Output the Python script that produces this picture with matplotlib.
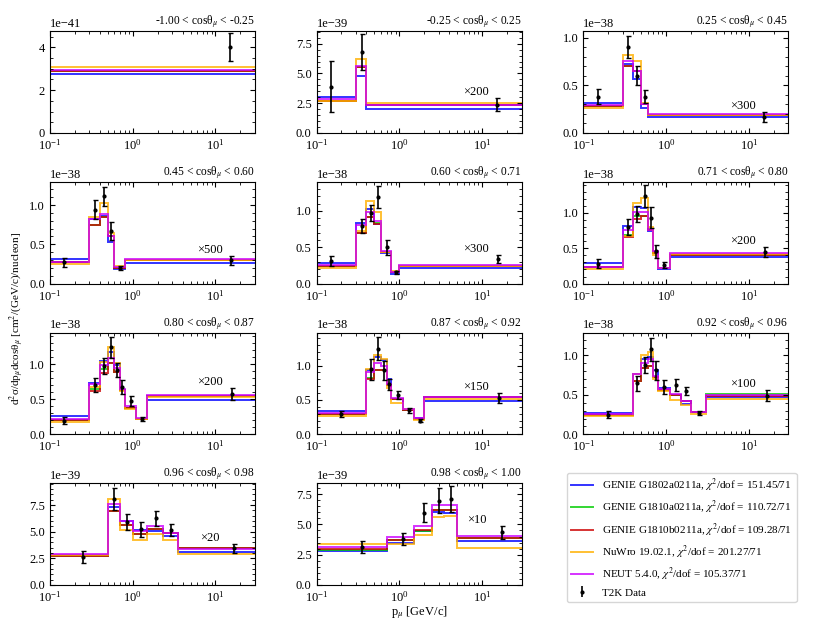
import numpy as np
import matplotlib.pyplot as plt
from matplotlib.lines import Line2D
from matplotlib.ticker import AutoMinorLocator, MaxNLocator

plt.rcParams['font.family'] = 'serif'
plt.rcParams['font.serif'] = ['Liberation Serif', 'DejaVu Serif']
plt.rcParams['mathtext.fontset'] = 'stix'
plt.rcParams['font.size'] = 8
plt.rcParams['xtick.labelsize'] = 9
plt.rcParams['ytick.labelsize'] = 9

# angular slices
cos_lo = [-1.00, -0.25, 0.25, 0.45, 0.60, 0.71, 0.80, 0.87, 0.92, 0.96, 0.98]
cos_hi = [-0.25, 0.25, 0.45, 0.60, 0.71, 0.80, 0.87, 0.92, 0.96, 0.98, 1.00]
units = [1e-41, 1e-39, 1e-38, 1e-38, 1e-38, 1e-38, 1e-38, 1e-38, 1e-38, 1e-39, 1e-39]
y_max = [4.75, 8.55, 1.07, 1.295, 1.40, 1.44, 1.45, 1.48, 1.29, 9.56, 8.4]
last_bin_scale = [None, 200, 300, 500, 300, 200, 200, 150, 100, 20, 10]

# momentum bin edges [GeV/c]
p_edges = [
    [0, 30],
    [0, 0.3, 0.4, 30],
    [0, 0.3, 0.4, 0.5, 0.6, 30],
    [0, 0.3, 0.4, 0.5, 0.6, 0.8, 30],
    [0, 0.3, 0.4, 0.5, 0.6, 0.8, 1.0, 30],
    [0, 0.3, 0.4, 0.5, 0.6, 0.7, 0.8, 1.1, 30],
    [0, 0.3, 0.4, 0.5, 0.6, 0.7, 0.8, 1.1, 1.5, 30],
    [0, 0.4, 0.5, 0.6, 0.7, 0.8, 1.1, 1.5, 2.0, 30],
    [0, 0.4, 0.5, 0.6, 0.7, 0.8, 1.1, 1.5, 2.0, 3.0, 30],
    [0, 0.5, 0.7, 1.0, 1.5, 2.3, 3.5, 30],
    [0, 0.7, 1.5, 2.5, 3.5, 5.0, 30],
]

t2k = [
    [4.0],
    [3.9, 6.8, 2.36],
    [0.38, 0.90, 0.60, 0.38, 0.167],
    [0.27, 0.94, 1.11, 0.67, 0.20, 0.295],
    [0.315, 0.79, 0.97, 1.19, 0.50, 0.155, 0.34],
    [0.28, 0.80, 0.985, 1.24, 0.93, 0.455, 0.265, 0.445],
    [0.19, 0.70, 0.97, 1.24, 0.915, 0.67, 0.475, 0.215, 0.575],
    [0.295, 0.945, 1.245, 0.93, 0.725, 0.57, 0.35, 0.20, 0.53],
    [0.25, 0.645, 0.877, 1.076, 0.813, 0.60, 0.63, 0.55, 0.27, 0.487],
    [2.65, 8.1, 5.9, 5.25, 6.25, 5.15, 3.45],
    [3.17, 3.77, 5.98, 6.97, 7.1, 4.35],
]
t2k_err = [
    [0.66],
    [2.15, 1.5, 0.55],
    [0.08, 0.115, 0.10, 0.07, 0.05],
    [0.06, 0.12, 0.12, 0.11, 0.03, 0.06],
    [0.07, 0.10, 0.11, 0.15, 0.10, 0.025, 0.05],
    [0.065, 0.11, 0.11, 0.16, 0.15, 0.09, 0.04, 0.07],
    [0.05, 0.10, 0.11, 0.15, 0.10, 0.10, 0.07, 0.03, 0.08],
    [0.045, 0.15, 0.17, 0.14, 0.08, 0.06, 0.035, 0.02, 0.075],
    [0.045, 0.10, 0.10, 0.15, 0.12, 0.085, 0.075, 0.05, 0.03, 0.07],
    [0.55, 1.05, 0.75, 0.7, 0.7, 0.55, 0.4],
    [0.5, 0.5, 0.75, 1.05, 1.05, 0.55],
]

genie_1802a = [
    [2.75],
    [3.0, 4.8, 2.03],
    [0.31, 0.73, 0.57, 0.26, 0.167],
    [0.31, 0.82, 0.865, 0.535, 0.185, 0.265],
    [0.29, 0.83, 1.02, 0.82, 0.42, 0.13, 0.21],
    [0.29, 0.82, 1.09, 1.07, 0.75, 0.445, 0.21, 0.37],
    [0.26, 0.725, 1.05, 1.175, 0.985, 0.63, 0.38, 0.215, 0.49],
    [0.34, 0.93, 1.125, 1.08, 0.81, 0.52, 0.35, 0.23, 0.48],
    [0.27, 0.76, 0.95, 0.98, 0.81, 0.59, 0.50, 0.39, 0.285, 0.475],
    [2.8, 7.3, 6.0, 5.15, 5.05, 4.6, 3.1],
    [2.8, 3.5, 4.45, 6.05, 5.9, 3.65],
]
genie_1810a = [
    [2.88],
    [2.67, 5.55, 2.36],
    [0.28, 0.70, 0.65, 0.30, 0.185],
    [0.27, 0.75, 0.85, 0.60, 0.20, 0.30],
    [0.24, 0.70, 0.92, 0.83, 0.44, 0.16, 0.245],
    [0.23, 0.69, 0.95, 0.96, 0.76, 0.43, 0.22, 0.41],
    [0.21, 0.64, 0.93, 1.01, 0.89, 0.63, 0.38, 0.22, 0.55],
    [0.29, 0.82, 0.93, 0.93, 0.715, 0.52, 0.36, 0.22, 0.54],
    [0.24, 0.67, 0.84, 0.86, 0.73, 0.56, 0.50, 0.42, 0.28, 0.51],
    [2.75, 6.95, 5.6, 4.75, 5.25, 4.9, 3.5],
    [2.9, 3.7, 4.45, 6.15, 6.15, 3.9],
]
genie_1810b = [
    [2.9],
    [2.67, 5.55, 2.36],
    [0.28, 0.70, 0.65, 0.30, 0.185],
    [0.27, 0.74, 0.85, 0.60, 0.20, 0.30],
    [0.24, 0.70, 0.92, 0.82, 0.44, 0.16, 0.245],
    [0.23, 0.66, 0.92, 0.96, 0.76, 0.43, 0.22, 0.41],
    [0.21, 0.62, 0.88, 1.01, 0.89, 0.63, 0.38, 0.22, 0.55],
    [0.29, 0.80, 0.93, 0.93, 0.715, 0.52, 0.36, 0.22, 0.54],
    [0.24, 0.67, 0.84, 0.86, 0.73, 0.56, 0.50, 0.42, 0.28, 0.48],
    [2.72, 6.95, 5.6, 4.75, 5.25, 4.9, 3.5],
    [3.0, 3.7, 4.55, 6.15, 6.15, 3.9],
]
nuwro = [
    [3.1],
    [2.65, 6.25, 2.5],
    [0.26, 0.82, 0.76, 0.31, 0.19],
    [0.25, 0.85, 1.03, 0.65, 0.22, 0.295],
    [0.22, 0.72, 1.13, 0.985, 0.44, 0.175, 0.245],
    [0.21, 0.68, 1.14, 1.21, 0.80, 0.41, 0.22, 0.42],
    [0.18, 0.68, 1.03, 1.25, 1.02, 0.61, 0.355, 0.22, 0.525],
    [0.27, 0.945, 1.15, 1.10, 0.67, 0.45, 0.365, 0.21, 0.51],
    [0.235, 0.76, 1.01, 1.04, 0.70, 0.55, 0.43, 0.37, 0.255, 0.445],
    [2.8, 8.1, 5.15, 4.2, 4.75, 4.2, 2.9],
    [3.36, 3.35, 4.1, 5.6, 5.7, 3.05],
]
neut = [
    [2.93],
    [2.86, 5.6, 2.38],
    [0.29, 0.76, 0.65, 0.305, 0.195],
    [0.28, 0.82, 0.89, 0.61, 0.21, 0.31],
    [0.255, 0.81, 0.985, 0.86, 0.45, 0.16, 0.255],
    [0.24, 0.76, 1.02, 1.02, 0.76, 0.46, 0.22, 0.43],
    [0.215, 0.71, 0.985, 1.08, 0.95, 0.64, 0.40, 0.23, 0.56],
    [0.305, 0.91, 1.03, 1.0, 0.725, 0.53, 0.375, 0.23, 0.545],
    [0.255, 0.76, 0.905, 0.96, 0.74, 0.57, 0.51, 0.42, 0.285, 0.50],
    [2.9, 7.6, 6.03, 5.1, 5.5, 4.9, 3.35],
    [3.1, 4.0, 4.9, 6.6, 6.6, 4.07],
]

models = [
    (genie_1802a, '#0000ff', r'GENIE G1802a0211a, $\chi^2$/dof = 151.45/71'),
    (genie_1810a, '#00cc00', r'GENIE G1810a0211a, $\chi^2$/dof = 110.72/71'),
    (genie_1810b, '#cc0000', r'GENIE G1810b0211a, $\chi^2$/dof = 109.28/71'),
    (nuwro, '#ffb000', r'NuWro 19.02.1, $\chi^2$/dof = 201.27/71'),
    (neut, '#cc00ff', r'NEUT 5.4.0, $\chi^2$/dof = 105.37/71'),
]

fig, axes = plt.subplots(4, 3, figsize=(8.3, 6.23), dpi=100)
fig.subplots_adjust(left=0.060, right=0.950, bottom=0.061, top=0.950,
                    wspace=0.30, hspace=0.48)

for i, ax in enumerate(axes.flat[:11]):
    edges = np.array(p_edges[i], dtype=float)
    u = units[i]
    for vals, color, label in models:
        ax.stairs(np.array(vals[i]) * u, edges, baseline=None,
                  color=color, lw=1.4, alpha=0.8)
    centers = 0.5 * (edges[:-1] + edges[1:])
    ax.errorbar(centers, np.array(t2k[i]) * u, yerr=np.array(t2k_err[i]) * u,
                fmt='o', ms=2, color='k', elinewidth=1.2, capsize=1.8, capthick=1.0)

    ax.set_xscale('log')
    ax.set_xlim(0.1, 30)
    ax.set_ylim(0, y_max[i] * u)
    ax.yaxis.set_major_locator(MaxNLocator(nbins=4, steps=[1, 2, 2.5, 5, 10]))
    ax.yaxis.set_minor_locator(AutoMinorLocator())
    ax.tick_params(which='both', direction='in', top=True, right=True)
    ax.tick_params(which='major', length=3.5)
    ax.tick_params(which='minor', length=2)
    ax.set_title(f'{cos_lo[i]:.2f} < cosθ$_\\mu$ < {cos_hi[i]:.2f}',
                 loc='right', fontsize=8.3, pad=3)

    if last_bin_scale[i] is not None:
        y_txt = (t2k[i][-1] + t2k_err[i][-1]) * u
        ax.text(8.5, y_txt, f'×{last_bin_scale[i]}', ha='center', va='bottom',
                fontsize=9)

axes[3, 1].set_xlabel(r'p$_\mu$ [GeV/c]', fontsize=9)
axes[3, 1].xaxis.set_label_coords(0.5, -0.19)
fig.text(0.021, 0.488, r'd$^2$σ/dp$_\mu$dcosθ$_\mu$ [cm$^2$/(GeV/c)/nucleon]',
         rotation=90, ha='center', va='center', fontsize=8)

axes[3, 2].axis('off')
handles = [Line2D([], [], color=c, lw=1.4, alpha=0.8) for _, c, _ in models]
labels = [lab for _, _, lab in models]
data_handle = axes[3, 2].errorbar([], [], yerr=[], fmt='o', ms=2, color='k',
                                  elinewidth=1.2, capsize=1.8)
handles.append(data_handle)
labels.append('T2K Data')
fig.legend(handles, labels, loc='upper left', bbox_to_anchor=(0.676, 0.25),
           fontsize=8, labelspacing=0.45)

plt.savefig('out.png', dpi=100)
